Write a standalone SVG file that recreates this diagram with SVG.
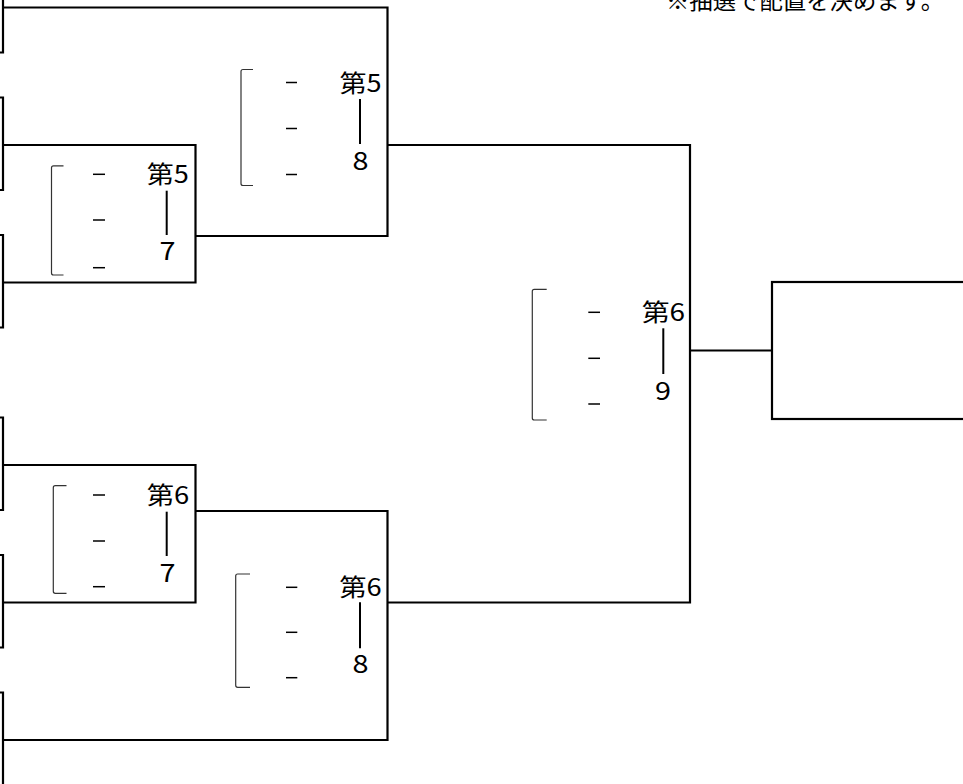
<svg xmlns="http://www.w3.org/2000/svg" width="963" height="784" viewBox="0 0 963 784">
<style>
.ln{fill:none;stroke:#000;stroke-width:2.2}
.br{fill:none;stroke:#333;stroke-width:1.2}
.ds{stroke:#000;stroke-width:1.5}
.vl{stroke:#000;stroke-width:2}
.t{font-family:"Noto Sans CJK JP","Noto Sans",sans-serif;font-size:24px;fill:#000}
.d{font-family:"Noto Sans CJK JP","Noto Sans",sans-serif;font-size:25px;fill:#000}
.note{font-family:"Noto Sans CJK JP",sans-serif;font-size:23px;fill:#000}
</style>
<rect width="963" height="784" fill="#fff"/>
<text class="note" x="666" y="9" textLength="278" lengthAdjust="spacingAndGlyphs">※抽選で配置を決めます。</text>

<g id="entries">
<g id="e1"><path class="ln" d="M-10,-40 H3 V52.5 H-10"/></g>
<g id="e2"><path class="ln" d="M-10,97.5 H3 V190 H-10"/></g>
<g id="e3"><path class="ln" d="M-10,235 H3 V327.5 H-10"/></g>
<g id="e4"><path class="ln" d="M-10,417.5 H3 V510 H-10"/></g>
<g id="e5"><path class="ln" d="M-10,555 H3 V647.5 H-10"/></g>
<g id="e6"><path class="ln" d="M-10,692.5 H3 V800 H-10"/></g>
</g>

<g id="final"><rect class="ln" x="772" y="282" width="220" height="137"/></g>

<g id="connectors">
<path class="ln" d="M3,145 H195.5 V282.5 H3"/>
<path class="ln" d="M3,7.5 H387.5 V236 H195.5"/>
<path class="ln" d="M387.5,145 H690 V602.5 H387.5"/>
<path class="ln" d="M3,465 H195.5 V602.5 H3"/>
<path class="ln" d="M195.5,511 H387.5 V740 H3"/>
<path class="ln" d="M690,350.5 H772"/>
</g>

<g id="mA">
<path class="br" d="M253,69.5 H243 Q241,69.5 241,71.5 V183.5 Q241,185.5 243,185.5 H253"/>
<line class="ds" x1="286" y1="82.5" x2="297" y2="82.5"/>
<line class="ds" x1="286" y1="128.5" x2="297" y2="128.5"/>
<line class="ds" x1="286" y1="174.5" x2="297" y2="174.5"/>
<text class="t" x="339.5" y="91.5" textLength="42" lengthAdjust="spacingAndGlyphs">第5</text>
<line class="vl" x1="360" y1="99" x2="360" y2="144"/>
<text class="d" x="352.5" y="170" textLength="16" lengthAdjust="spacingAndGlyphs">8</text>
</g>

<g id="mB">
<path class="br" d="M63.5,165.8 H53.5 Q51.5,165.8 51.5,167.8 V273 Q51.5,275 53.5,275 H63.5"/>
<line class="ds" x1="93" y1="174.3" x2="105" y2="174.3"/>
<line class="ds" x1="93" y1="220" x2="105" y2="220"/>
<line class="ds" x1="93" y1="267.7" x2="105" y2="267.7"/>
<text class="t" x="146.7" y="183" textLength="42" lengthAdjust="spacingAndGlyphs">第5</text>
<line class="vl" x1="166.7" y1="190.7" x2="166.7" y2="235"/>
<text class="d" x="159.5" y="260" textLength="16" lengthAdjust="spacingAndGlyphs">7</text>
</g>

<g id="mC">
<path class="br" d="M66.5,485.7 H55.3 Q53.3,485.7 53.3,487.7 V591.3 Q53.3,593.3 55.3,593.3 H66.5"/>
<line class="ds" x1="93" y1="495" x2="105" y2="495"/>
<line class="ds" x1="93" y1="541" x2="105" y2="541"/>
<line class="ds" x1="93" y1="586.7" x2="105" y2="586.7"/>
<text class="t" x="146.7" y="504" textLength="42.5" lengthAdjust="spacingAndGlyphs">第6</text>
<line class="vl" x1="166.7" y1="511.7" x2="166.7" y2="556"/>
<text class="d" x="159.5" y="581.7" textLength="16" lengthAdjust="spacingAndGlyphs">7</text>
</g>

<g id="mD">
<path class="br" d="M250,574 H237.7 Q235.7,574 235.7,576 V685.3 Q235.7,687.3 237.7,687.3 H250"/>
<line class="ds" x1="286" y1="587.3" x2="297.3" y2="587.3"/>
<line class="ds" x1="286" y1="632.3" x2="297.3" y2="632.3"/>
<line class="ds" x1="286" y1="677.7" x2="297.3" y2="677.7"/>
<text class="t" x="339.3" y="596" textLength="42.4" lengthAdjust="spacingAndGlyphs">第6</text>
<line class="vl" x1="360" y1="602.3" x2="360" y2="648.3"/>
<text class="d" x="352.5" y="673.3" textLength="16" lengthAdjust="spacingAndGlyphs">8</text>
</g>

<g id="mE">
<path class="br" d="M546.7,289.3 H534.3 Q532.3,289.3 532.3,291.3 V418 Q532.3,420 534.3,420 H546.7"/>
<line class="ds" x1="588.3" y1="312.3" x2="600" y2="312.3"/>
<line class="ds" x1="588.3" y1="358.3" x2="600" y2="358.3"/>
<line class="ds" x1="588.3" y1="404" x2="600" y2="404"/>
<text class="t" x="641.7" y="320.5" textLength="43.3" lengthAdjust="spacingAndGlyphs">第6</text>
<line class="vl" x1="663.3" y1="328.3" x2="663.3" y2="374"/>
<text class="d" x="655" y="400" textLength="16" lengthAdjust="spacingAndGlyphs">9</text>
</g>
</svg>
